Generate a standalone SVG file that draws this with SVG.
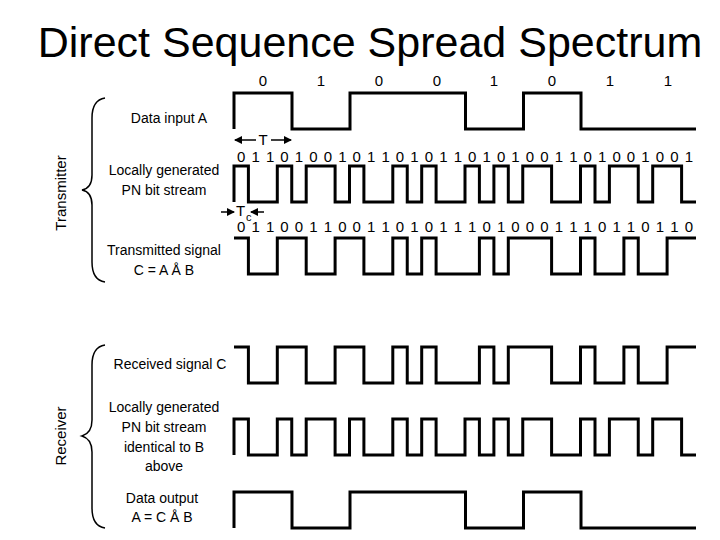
<svg xmlns="http://www.w3.org/2000/svg" width="720" height="540" viewBox="0 0 720 540">
<style>
text{font-family:"Liberation Sans",Arial,sans-serif;fill:#000}
.w{fill:none;stroke:#000;stroke-width:3;stroke-linejoin:miter}
.lbl{font-size:14px;text-anchor:middle}
.bits{font-size:15px;text-anchor:middle}
.br{fill:none;stroke:#000;stroke-width:1.5}
.ar{stroke:#000;stroke-width:1.5;fill:none}
</style>
<defs>
<path id="pn" class="w" d="M234,36 V0 H248.4 V36 H277.3 V0 H291.75 V36 H306.2 V0 H335.1 V36 H349.5 V0 H363.9 V36 H392.8 V0 H407.25 V36 H421.7 V0 H436.1 V36 H465 V0 H479.4 V36 H493.9 V0 H508.3 V36 H522.75 V0 H551.6 V36 H580.5 V0 H595 V36 H609.4 V0 H638.25 V36 H652.7 V0 H681.6 V36 H696"/>
<path id="tx" class="w" d="M234,0 H248.4 V36 H277.3 V0 H306.2 V36 H335.1 V0 H363.9 V36 H392.8 V0 H407.25 V36 H421.7 V0 H436.1 V36 H479.4 V0 H493.9 V36 H508.3 V0 H551.6 V36 H580.5 V0 H595 V36 H623.9 V0 H638.25 V36 H667.1 V0 H696"/>
<path id="data" class="w" d="M234,36 V0 H292 V36 H350 V0 H465.5 V36 H523.5 V0 H581 V36 H696"/>
<marker id="ah" markerWidth="8" markerHeight="8" refX="7" refY="4" orient="auto" markerUnits="userSpaceOnUse"><path d="M0,0 L8,4 L0,8 z" fill="#000"/></marker>
</defs>
<text x="370" y="57" font-size="43" text-anchor="middle">Direct Sequence Spread Spectrum</text>

<g id="transmitter">
<path class="br" d="M105,98 Q92,100 92,118 V175 Q92,188 82,190 Q92,192 92,205 V262 Q92,280 105,282"/>
<text transform="translate(66,193) rotate(-90)" font-size="15" text-anchor="middle">Transmitter</text>
</g>
<g id="receiver">
<path class="br" d="M105,345 Q92,347 92,365 V420 Q92,433 82,436 Q92,439 92,452 V508 Q92,526 105,528"/>
<text transform="translate(66,436) rotate(-90)" font-size="15" text-anchor="middle">Receiver</text>
</g>

<g id="labels" class="lbl">
<text x="169" y="123">Data input A</text>
<text x="164" y="175">Locally generated</text>
<text x="164" y="195">PN bit stream</text>
<text x="164" y="255">Transmitted signal</text>
<text x="164" y="275">C = A Å B</text>
<text x="170" y="369">Received signal C</text>
<text x="164" y="412">Locally generated</text>
<text x="164" y="432">PN bit stream</text>
<text x="164" y="452">identical to B</text>
<text x="164" y="471">above</text>
<text x="162" y="503">Data output</text>
<text x="162" y="522">A = C Å B</text>
</g>

<g id="databits" class="bits">
<text x="263" y="86">0</text><text x="321" y="86">1</text><text x="379" y="86">0</text><text x="437" y="86">0</text><text x="494" y="86">1</text><text x="552" y="86">0</text><text x="610" y="86">1</text><text x="668" y="86">1</text>
</g>
<g id="pnbits" class="bits">
<text x="241.2" y="162">0</text><text x="255.7" y="162">1</text><text x="270.1" y="162">1</text><text x="284.5" y="162">0</text><text x="299" y="162">1</text><text x="313.4" y="162">0</text><text x="327.9" y="162">0</text><text x="342.3" y="162">1</text><text x="356.7" y="162">0</text><text x="371.2" y="162">1</text><text x="385.6" y="162">1</text><text x="400" y="162">0</text><text x="414.5" y="162">1</text><text x="428.9" y="162">0</text><text x="443.4" y="162">1</text><text x="457.8" y="162">1</text><text x="472.2" y="162">0</text><text x="486.7" y="162">1</text><text x="501.1" y="162">0</text><text x="515.5" y="162">1</text><text x="530" y="162">0</text><text x="544.4" y="162">0</text><text x="558.8" y="162">1</text><text x="573.3" y="162">1</text><text x="587.7" y="162">0</text><text x="602.2" y="162">1</text><text x="616.6" y="162">0</text><text x="631" y="162">0</text><text x="645.5" y="162">1</text><text x="659.9" y="162">0</text><text x="674.3" y="162">0</text><text x="688.8" y="162">1</text>
</g>
<g id="txbits" class="bits">
<text x="241.2" y="232">0</text><text x="255.7" y="232">1</text><text x="270.1" y="232">1</text><text x="284.5" y="232">0</text><text x="299" y="232">0</text><text x="313.4" y="232">1</text><text x="327.9" y="232">1</text><text x="342.3" y="232">0</text><text x="356.7" y="232">0</text><text x="371.2" y="232">1</text><text x="385.6" y="232">1</text><text x="400" y="232">0</text><text x="414.5" y="232">1</text><text x="428.9" y="232">0</text><text x="443.4" y="232">1</text><text x="457.8" y="232">1</text><text x="472.2" y="232">1</text><text x="486.7" y="232">0</text><text x="501.1" y="232">1</text><text x="515.5" y="232">0</text><text x="530" y="232">0</text><text x="544.4" y="232">0</text><text x="558.8" y="232">1</text><text x="573.3" y="232">1</text><text x="587.7" y="232">1</text><text x="602.2" y="232">0</text><text x="616.6" y="232">1</text><text x="631" y="232">1</text><text x="645.5" y="232">0</text><text x="659.9" y="232">1</text><text x="674.3" y="232">1</text><text x="688.8" y="232">0</text>
</g>

<g id="timing">
<line class="ar" x1="256" y1="140" x2="235" y2="140" marker-end="url(#ah)"/>
<text x="263" y="145" font-size="15" text-anchor="middle">T</text>
<line class="ar" x1="271" y1="140" x2="291" y2="140" marker-end="url(#ah)"/>
<line class="ar" x1="221" y1="212" x2="234" y2="212" marker-end="url(#ah)"/>
<text x="236" y="216" font-size="15">T</text><text x="246" y="221" font-size="11">c</text>
<line class="ar" x1="264" y1="212" x2="251" y2="212" marker-end="url(#ah)"/>
</g>

<g id="waveforms">
<use href="#data" transform="translate(0,93)"/>
<use href="#pn" transform="translate(0,166)"/>
<use href="#tx" transform="translate(0,238)"/>
<use href="#tx" transform="translate(0,347)"/>
<use href="#pn" transform="translate(0,419)"/>
<use href="#data" transform="translate(0,492)"/>
</g>
</svg>
